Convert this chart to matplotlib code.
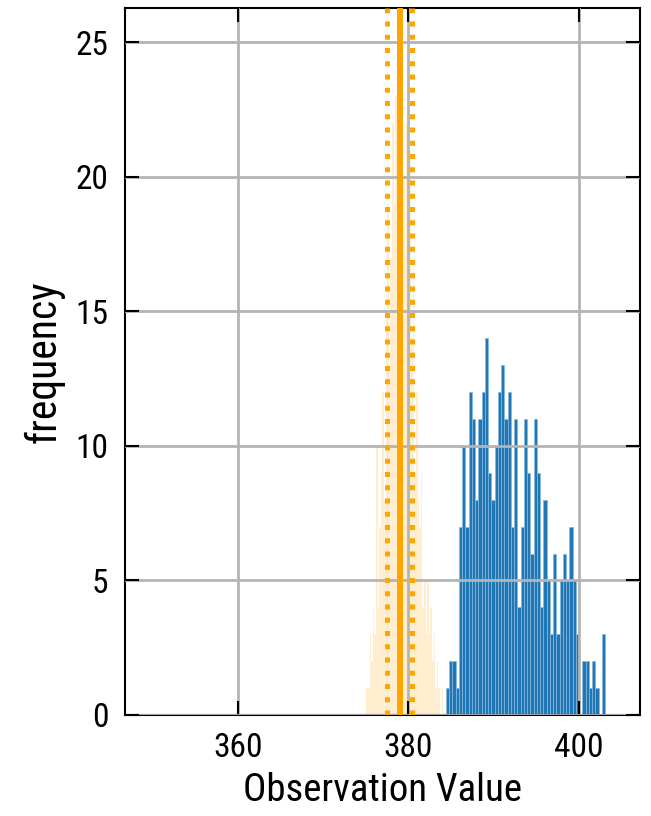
import numpy as np
import matplotlib
matplotlib.use("Agg")
import matplotlib.pyplot as plt
from matplotlib import font_manager

# pick a condensed font if there is one
names = set(f.name for f in font_manager.fontManager.ttflist)
fam = "DejaVu Sans"
for cand in ["Roboto Condensed", "Liberation Sans Narrow", "DejaVu Sans Condensed"]:
    if cand in names:
        fam = cand
        break
plt.rcParams["font.family"] = [fam, "DejaVu Sans"]

# blue histogram: bin range and counts
blue_lo, blue_hi = 384.42, 403.1
blue_counts = [1, 2, 2, 1, 7, 10, 7, 12, 11, 8,
               11, 12, 14, 9, 8, 10, 12, 13, 11, 12,
               7, 11, 4, 7, 11, 9, 6, 11, 9, 4,
               8, 5, 3, 6, 3, 5, 6, 5, 7, 5,
               3, 0, 2, 2, 1, 2, 1, 0, 3]

# orange histogram: bin range and counts
orange_lo, orange_hi = 375.1, 384.1
orange_counts = [1, 1, 3, 2, 4,
                 3, 10, 4, 7, 9,
                 12, 8, 15, 19, 13,
                 17, 22, 19, 23, 21, 16,
                 24, 18, 20, 17, 22,
                 19, 21, 14, 17, 9,
                 12, 8, 7, 9, 4, 5,
                 3, 5, 3, 4, 2,
                 3, 1, 2, 1, 0, 1]

mean_val = 378.98
band = [377.45, 380.43]

xticks = [360, 380, 400]
yticks = [0, 5, 10, 15, 20, 25]

fig = plt.figure(figsize=(6.51, 8.16), dpi=100)
ax = fig.add_axes([0.192, 0.1238, 0.791, 0.866])

edges = np.linspace(orange_lo, orange_hi, len(orange_counts) + 1)
ax.bar(edges[:-1], orange_counts, width=np.diff(edges), align="edge",
       color="#ffa500", alpha=0.2, edgecolor="white", linewidth=0.3)

edges = np.linspace(blue_lo, blue_hi, len(blue_counts) + 1)
ax.bar(edges[:-1], blue_counts, width=np.diff(edges), align="edge",
       color="#1f77b4", edgecolor="#8ab8e0", linewidth=0.5)

ax.axvline(mean_val, color="#ffa500", lw=4.3, zorder=3)
for b in band:
    ax.axvline(b, color="#ffa500", lw=3.6, ls=":", zorder=3)

ax.set_xlim(346.75, 407.2)
ax.set_ylim(0, 26.26)
ax.set_xticks(xticks)
ax.set_yticks(yticks)
ax.grid(True, color="#b4b4b4", lw=2)
ax.set_axisbelow(False)
ax.tick_params(direction="in", length=10, width=1.5, top=True, right=True,
               labelsize=24, pad=12, color="black")
for s in ax.spines.values():
    s.set_linewidth(1.5)

ax.set_xlabel("Observation Value", fontsize=28, labelpad=6)
ax.set_ylabel("frequency", fontsize=30, labelpad=8)

fig.savefig("out.png", dpi=100)
